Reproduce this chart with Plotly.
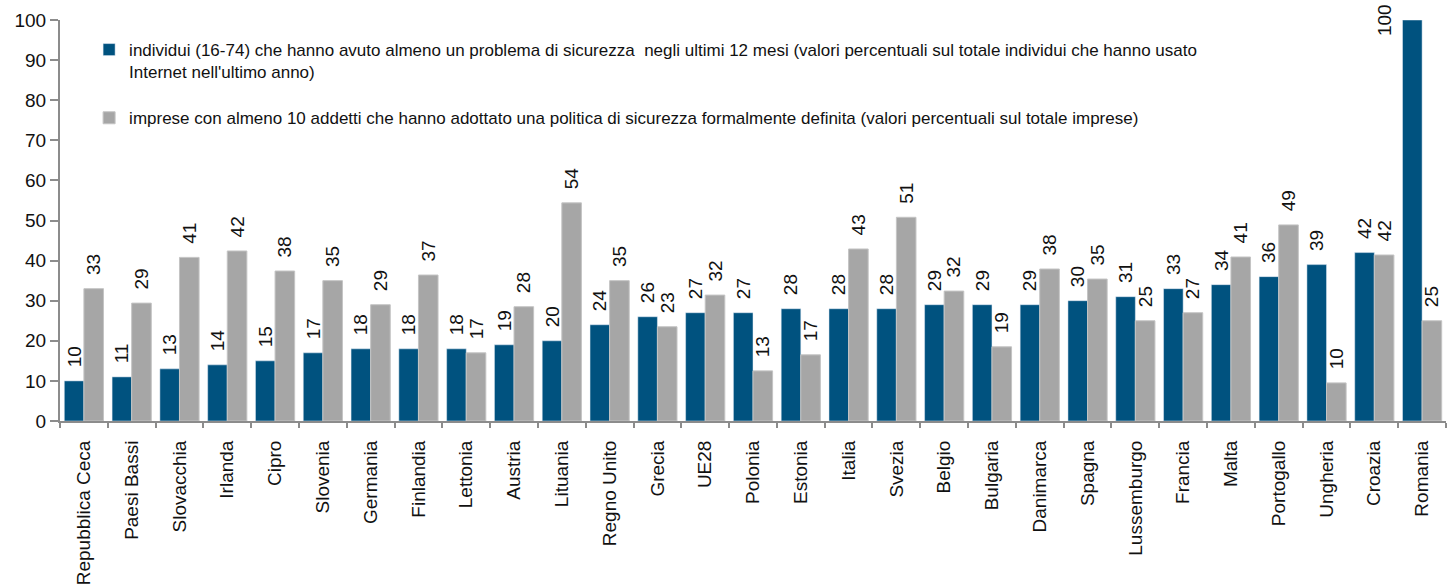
import plotly.graph_objects as go

categories = ["Repubblica Ceca", "Paesi Bassi", "Slovacchia", "Irlanda", "Cipro", "Slovenia",
              "Germania", "Finlandia", "Lettonia", "Austria", "Lituania", "Regno Unito", "Grecia",
              "UE28", "Polonia", "Estonia", "Italia", "Svezia", "Belgio", "Bulgaria", "Danimarca",
              "Spagna", "Lussemburgo", "Francia", "Malta", "Portogallo", "Ungheria", "Croazia", "Romania"]

individui = [10, 11, 13, 14, 15, 17, 18, 18, 18, 19, 20, 24, 26, 27, 27, 28, 28, 28, 29, 29, 29,
             30, 31, 33, 34, 36, 39, 42, 100]
individui_labels = [10, 11, 13, 14, 15, 17, 18, 18, 18, 19, 20, 24, 26, 27, 27, 28, 28, 28, 29, 29, 29,
                    30, 31, 33, 34, 36, 39, 42, 100]

imprese = [33, 29.4, 40.8, 42.4, 37.4, 35, 29, 36.4, 17, 28.5, 54.4, 35, 23.5, 31.4, 12.5, 16.5,
           42.9, 50.8, 32.4, 18.5, 37.9, 35.4, 25, 27, 40.9, 48.9, 9.5, 41.4, 25]
imprese_labels = [33, 29, 41, 42, 38, 35, 29, 37, 17, 28, 54, 35, 23, 32, 13, 17, 43, 51, 32, 19,
                  38, 35, 25, 27, 41, 49, 10, 42, 25]

name_ind = ("individui (16-74) che hanno avuto almeno un problema di sicurezza  negli ultimi 12 mesi "
            "(valori percentuali sul totale individui che hanno usato<br>Internet nell'ultimo anno)")
name_imp = ("imprese con almeno 10 addetti che hanno adottato una politica di sicurezza formalmente "
            "definita (valori percentuali sul totale imprese)")

BLUE = "#00527F"
GRAY = "#A6A6A6"
SANS = "Liberation Sans, Arial, sans-serif"
PAD = "\u00a0\u00a0"

vmax = max(individui)
ind_text = [("" if v == vmax else PAD + str(l)) for v, l in zip(individui, individui_labels)]
imp_text = [PAD + str(l) for l in imprese_labels]

fig = go.Figure()
fig.add_trace(go.Bar(x=categories, y=individui, name=name_ind, marker_color=BLUE,
                     text=ind_text, textposition="outside", textangle=-90,
                     textfont=dict(family=SANS, size=19, color="#111"),
                     cliponaxis=False, constraintext="none", legendgroup="a"))
fig.add_trace(go.Bar(x=categories, y=imprese, name=name_imp, marker_color=GRAY,
                     marker_line=dict(color="#c4c4c4", width=1),
                     text=imp_text, textposition="outside", textangle=-90,
                     textfont=dict(family=SANS, size=19, color="#111"),
                     cliponaxis=False, constraintext="none", legendgroup="b"))

# label for the bar that reaches the top of the axis, placed beside the bar
for c, v, l in zip(categories, individui, individui_labels):
    if v == vmax:
        fig.add_annotation(x=c, y=v, text=str(l), showarrow=False, textangle=-90,
                           xshift=-38, yshift=0, yanchor="middle", xanchor="center",
                           font=dict(family=SANS, size=19, color="#111"))

fig.update_layout(
    width=1450, height=586,
    margin=dict(l=60, r=4, t=20, b=165, autoexpand=False),
    paper_bgcolor="white", plot_bgcolor="white",
    barmode="group", bargap=0.18, bargroupgap=0,
    showlegend=True,
    legend=dict(x=0.021, y=0.97, xanchor="left", yanchor="top", bgcolor="rgba(0,0,0,0)",
                font=dict(family=SANS, size=17, color="#111"), valign="top",
                tracegroupgap=21, traceorder="grouped", itemwidth=30),
    font=dict(family=SANS, color="#111"),
)
fig.update_yaxes(range=[0, 100], dtick=10, showgrid=False, zeroline=False, automargin=False,
                 showline=True, linecolor="#8c8c8c", linewidth=2,
                 ticks="outside", ticklen=8, tickcolor="#8c8c8c", tickwidth=2,
                 tickfont=dict(family=SANS, size=19, color="#111"))
fig.update_xaxes(showgrid=False, showline=True, linecolor="#8c8c8c", linewidth=2, automargin=False,
                 ticks="outside", ticklen=5, tickcolor="#8c8c8c", tickwidth=2,
                 tickson="boundaries", tickangle=-90, ticklabelstandoff=10,
                 tickfont=dict(family=SANS, size=19, color="#111"))

fig.write_html("out.html", post_script="document.body.style.margin='0';",
               config={"displayModeBar": False})
